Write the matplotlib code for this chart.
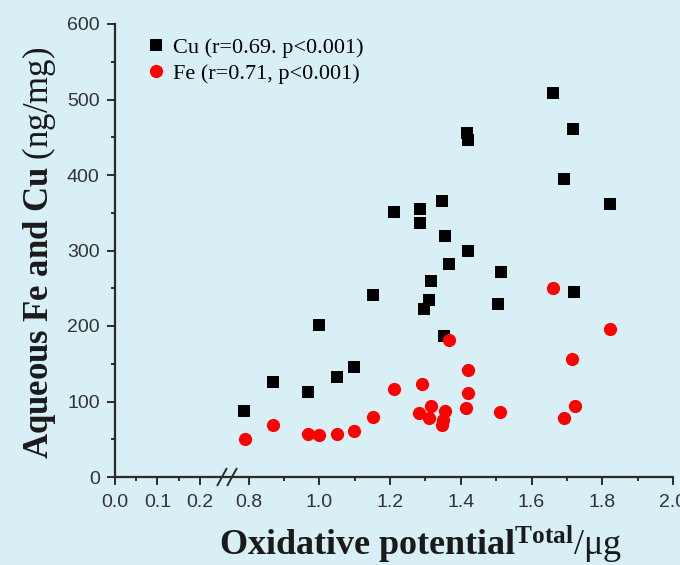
import numpy as np
import matplotlib
matplotlib.use('Agg')
import matplotlib.pyplot as plt
from matplotlib.ticker import FixedLocator, FormatStrFormatter

plt.rcParams['mathtext.fontset'] = 'custom'
plt.rcParams['mathtext.rm'] = 'Liberation Serif'
plt.rcParams['mathtext.bf'] = 'Liberation Serif:bold'
plt.rcParams['mathtext.it'] = 'Liberation Serif:italic'

# data
cu_x = [0.786, 0.868, 0.967, 1.000, 1.051, 1.099, 1.153, 1.212, 1.286, 1.286,
        1.297, 1.311, 1.317, 1.348, 1.354, 1.352, 1.368, 1.419, 1.421, 1.421,
        1.506, 1.513, 1.662, 1.693, 1.718, 1.721, 1.823]
cu_y = [87, 126, 113, 201, 132, 146, 241, 351, 355, 336,
        222, 234, 260, 366, 319, 187, 282, 456, 446, 299,
        229, 272, 509, 395, 461, 245, 362]

fe_x = [0.789, 0.868, 0.967, 1.000, 1.051, 1.099, 1.153, 1.210, 1.289, 1.283,
        1.311, 1.317, 1.354, 1.351, 1.348, 1.368, 1.421, 1.421, 1.416, 1.512,
        1.662, 1.823, 1.715, 1.724, 1.693]
fe_y = [50, 69, 57, 56, 57, 61, 79, 116, 123, 85,
        78, 94, 87, 75, 69, 181, 142, 111, 91, 86,
        250, 196, 156, 94, 78]

cu_label = 'Cu (r=0.69. p<0.001)'
fe_label = 'Fe (r=0.71, p<0.001)'

x_major = [0.0, 0.1, 0.2, 0.8, 1.0, 1.2, 1.4, 1.6, 1.8, 2.0]
x_minor = [0.05, 0.15, 0.9, 1.1, 1.3, 1.5, 1.7, 1.9]

bg = '#d7eff5'
dark = '#2b2b2b'
tick_font = ['Liberation Sans Narrow', 'Liberation Sans', 'DejaVu Sans']

# broken x axis: 0-0.26 stretched, 0.736-2 compressed
d_knots = np.array([-1.0, 0.0, 0.26, 0.736, 3.0])
u_knots = np.array([-425.0, 0.0, 110.5, 111.0, 111.0 + (3.0 - 0.736) * 354])


def fwd(d):
    return np.interp(d, d_knots, u_knots)


def inv(u):
    return np.interp(u, u_knots, d_knots)


fig = plt.figure(figsize=(6.8, 5.65), dpi=100, facecolor=bg)
ax = fig.add_axes([115 / 680, 1 - 477 / 565, (673 - 115) / 680, (477 - 24) / 565])
ax.set_facecolor(bg)
ax.set_xscale('function', functions=(fwd, inv))

ax.plot(cu_x, cu_y, ls='none', marker='s', ms=8, color='black', mew=0, label=cu_label)
ax.plot(fe_x, fe_y, ls='none', marker='o', ms=9.5, color='#ff0000', mew=0, label=fe_label)

ax.set_xlim(0, 2.0)
ax.set_ylim(0, 600)
ax.xaxis.set_major_locator(FixedLocator(x_major))
ax.xaxis.set_minor_locator(FixedLocator(x_minor))
ax.xaxis.set_major_formatter(FormatStrFormatter('%.1f'))
ax.set_yticks(np.arange(0, 601, 100))
ax.set_yticks(np.arange(50, 600, 100), minor=True)

for s in ['top', 'right']:
    ax.spines[s].set_visible(False)
for s in ['left', 'bottom']:
    ax.spines[s].set_color(dark)
    ax.spines[s].set_linewidth(1.6)

ax.tick_params(which='major', direction='out', length=6, width=1.4, color=dark,
               labelsize=14, labelcolor='#333333')
ax.tick_params(which='minor', direction='out', length=3, width=1.4, color=dark)
ax.tick_params(axis='x', which='major', pad=6)
ax.tick_params(axis='y', which='major', pad=5)
for lab in ax.get_xticklabels() + ax.get_yticklabels():
    lab.set_family(tick_font)

# break marks on the x axis
for px in (222, 232):
    xa = (px - 115) / (673 - 115)
    ax.plot([xa - 0.008, xa + 0.008], [-0.018, 0.018], transform=ax.transAxes,
            color=dark, lw=1.4, clip_on=False)

leg = ax.legend(loc='upper left', bbox_to_anchor=(0.035, 0.99), frameon=False,
                prop={'family': 'Liberation Serif', 'size': 16},
                handletextpad=0.25, labelspacing=0.25, borderaxespad=0, handlelength=1.1)

fig.text(39 / 680, 1 - 253 / 565,
         r'$\mathbf{Aqueous\ Fe\ and\ Cu}\ \mathrm{(ng/mg)}$',
         rotation=90, ha='center', va='center', fontsize=25, color='#1a1a1a')
fig.text(421 / 680, (565 - 555) / 565,
         r'$\mathbf{Oxidative\ potential}^{\mathbf{Total}}\mathrm{/μg}$',
         ha='center', va='baseline', fontsize=26, color='#1a1a1a')

fig.savefig('out.png', dpi=100, facecolor=bg)
